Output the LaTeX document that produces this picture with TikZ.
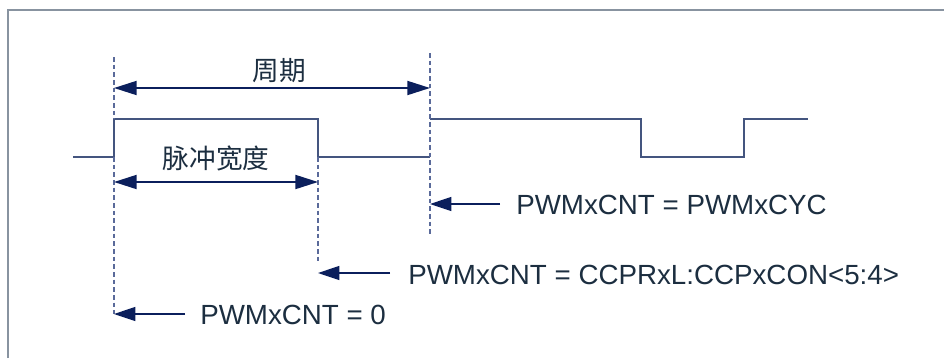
\documentclass[tikz,border=0pt]{standalone}
\usepackage{fontspec}
\setmainfont{Liberation Sans}
\newfontfamily\cjk{Noto Sans CJK SC}
\usetikzlibrary{arrows.meta}
\definecolor{framec}{HTML}{8893A0}
\definecolor{sigc}{HTML}{44557F}
\definecolor{dashc}{HTML}{5A6A9A}
\definecolor{arrc}{HTML}{0B1F5C}
\definecolor{txtc}{HTML}{1C2E40}
\begin{document}
\begin{tikzpicture}[x=0.75pt,y=-0.75pt,
  sig/.style={draw=sigc, line width=1.1pt},
  guide/.style={draw=dashc, line width=0.8pt, dash pattern=on 3.5pt off 2.25pt},
  span/.style={draw=arrc, line width=1.4pt, {Triangle[length=17pt,width=10.5pt]}-{Triangle[length=17pt,width=10.5pt]}},
  ptr/.style={draw=arrc, line width=0.9pt, -{Triangle[length=16pt,width=10.5pt]}},
  lbl/.style={text=txtc, font=\fontsize{20.8}{24}\selectfont, inner sep=0pt, anchor=base west},
  cn/.style={text=txtc, font=\cjk\fontsize{20}{24}\selectfont, inner sep=0pt}]
\useasboundingbox (0,0) rectangle (944,358);
\draw[framec, line width=1.4pt] (8,358) -- (8,10) -- (944,10);
% waveform
\draw[sig] (73,157) -- (114,157) -- (114,119) -- (318,119) -- (318,157) -- (430,157);
\draw[sig] (430,119) -- (641,119) -- (641,157) -- (744,157) -- (744,119) -- (808,119);
% guides
\draw[guide] (114,57) -- (114,119);
\draw[guide] (114,157) -- (114,314);
\draw[guide] (318,157) -- (318,264);
\draw[guide] (430,53) -- (430,235);
% spans
\coordinate (pL) at (114,88);
\coordinate (pR) at (430,88);
\coordinate (wL) at (114,182);
\coordinate (wR) at (318,182);
\draw[span] (pL) -- (pR);
\draw[span] (wL) -- (wR);
\node[cn] (period) at (279,71) {周期};
\node[cn] (width) at (216,158) {脉冲宽度};
% counter values
\node[lbl] (cyc) at (516,214) {PWMxCNT = PWMxCYC};
\node[lbl] (duty) at (408,284) {PWMxCNT = CCPRxL:CCPxCON<5:4>};
\node[lbl] (zero) at (200,324) {PWMxCNT = 0};
\coordinate (cycS) at (500,204);
\coordinate (cycE) at (430,204);
\coordinate (dutyS) at (390,273);
\coordinate (dutyE) at (318,273);
\coordinate (zeroS) at (185,314);
\coordinate (zeroE) at (114,314);
\draw[ptr] (cycS) -- (cycE);
\draw[ptr] (dutyS) -- (dutyE);
\draw[ptr] (zeroS) -- (zeroE);
\end{tikzpicture}
\end{document}
